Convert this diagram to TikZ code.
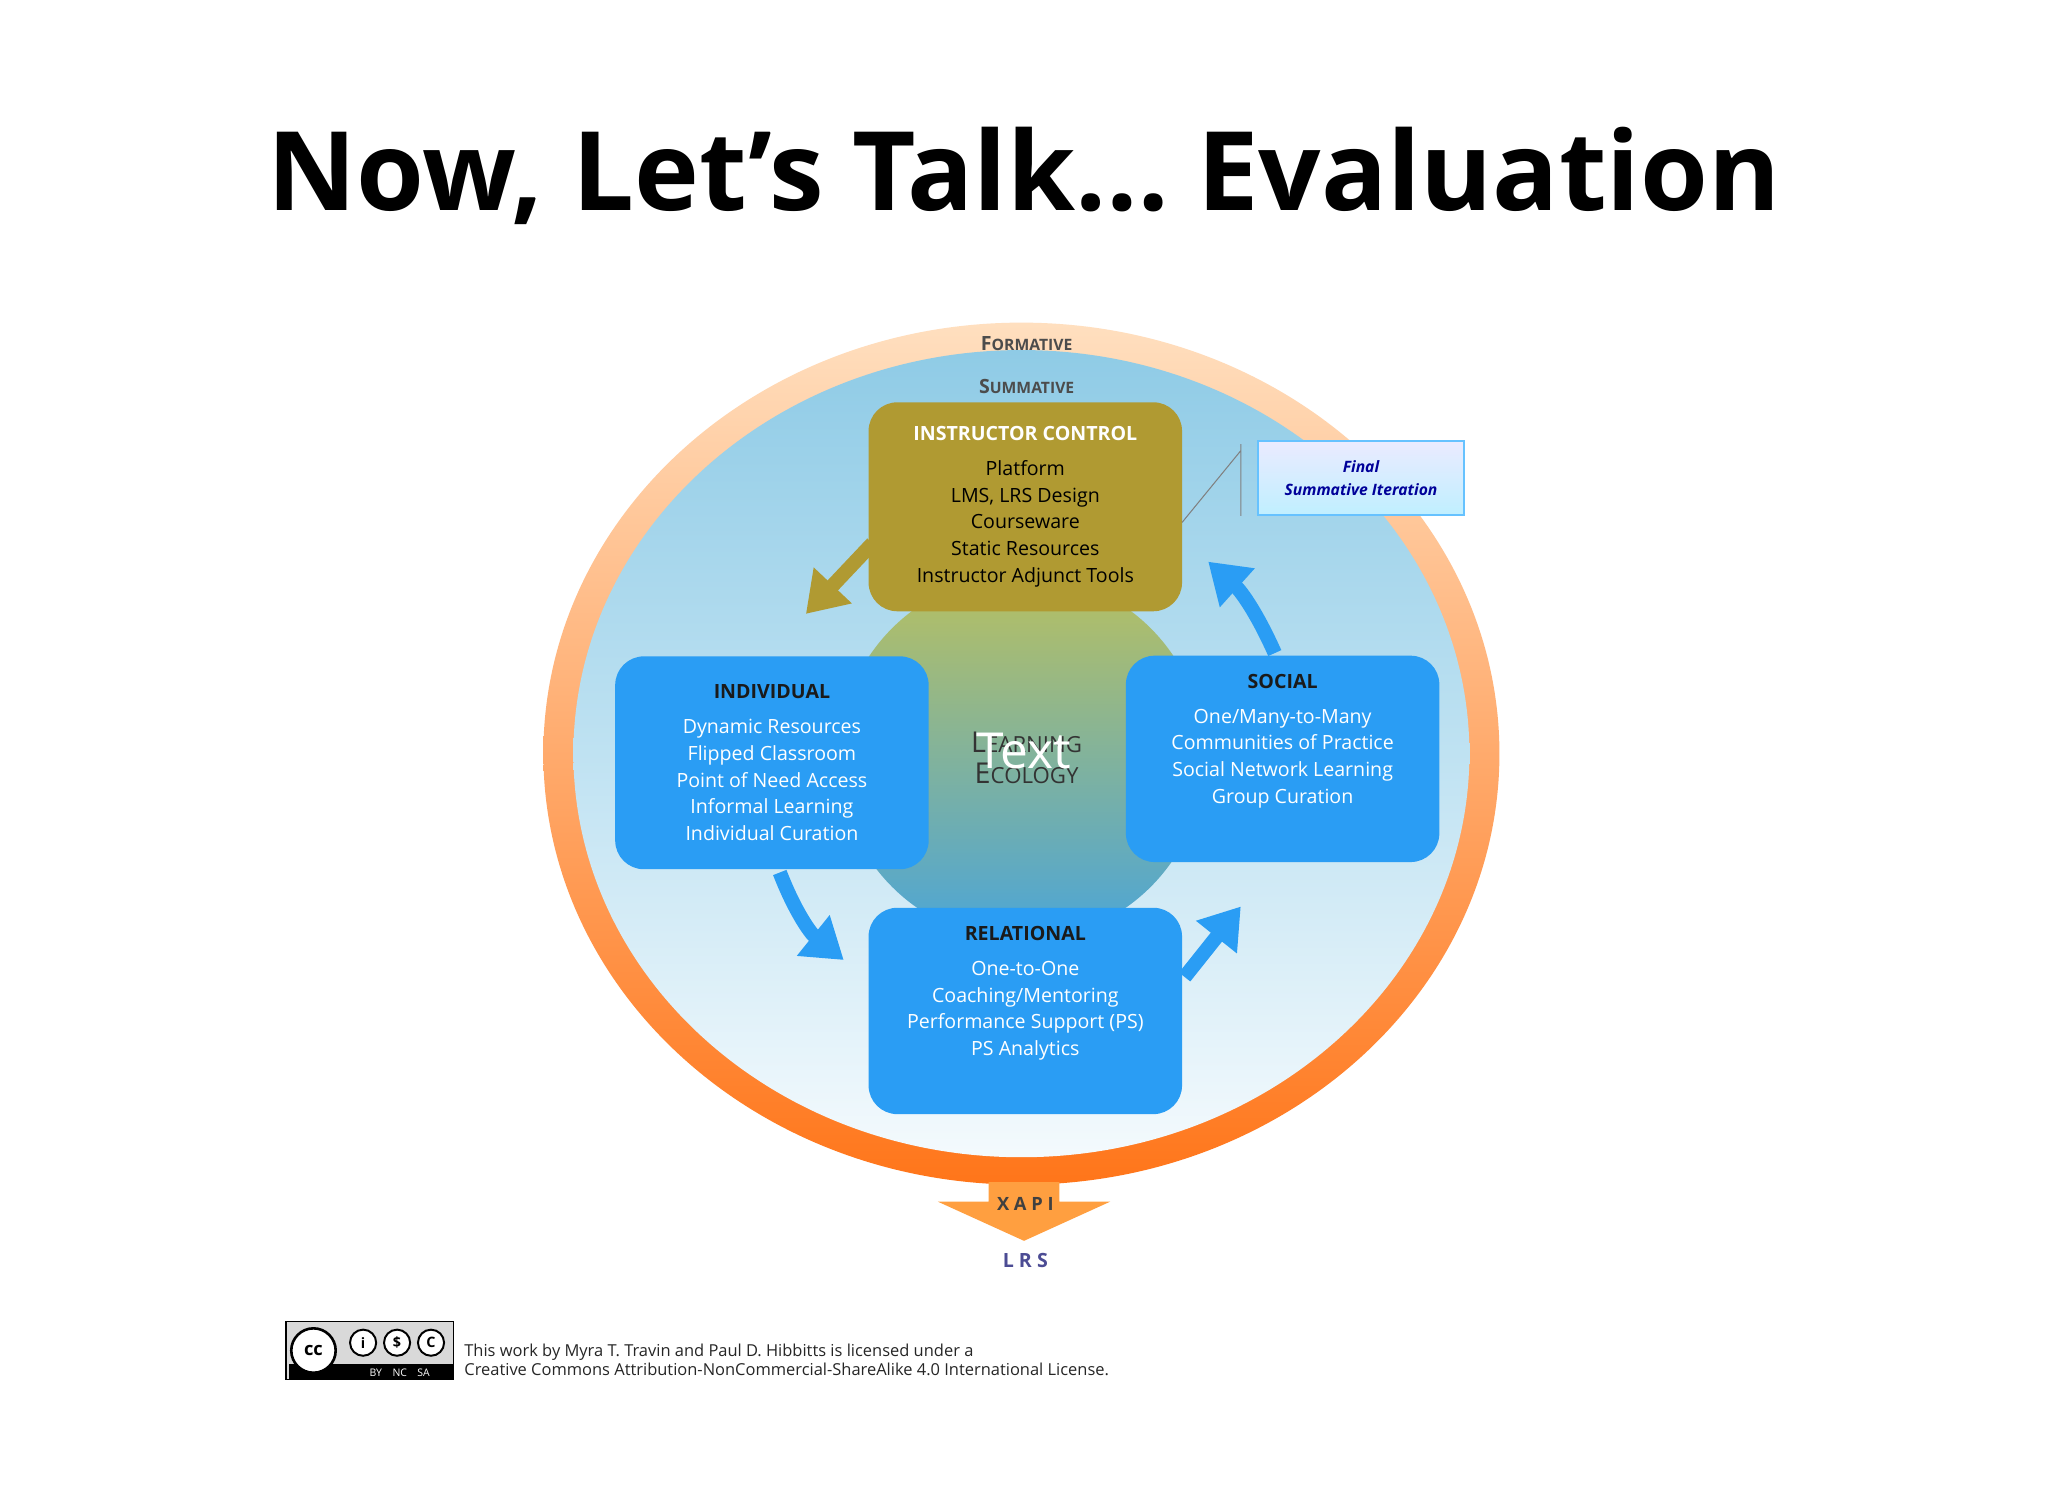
\documentclass[tikz,border=0pt]{standalone}
\usepackage{fontspec}
\setmainfont{Open Sans}
\usetikzlibrary{arrows.meta,shapes.geometric}
\definecolor{boxblue}{HTML}{2A9DF4}
\definecolor{gold}{HTML}{B09A32}
\definecolor{darkt}{HTML}{1A1A1A}
\definecolor{skytop}{HTML}{8FCBE6}
\definecolor{skymid}{HTML}{BFE2F2}
\definecolor{skybot}{HTML}{F4FAFD}
\definecolor{ecotop}{HTML}{B8C060}
\definecolor{ecobot}{HTML}{4BA5D8}
\tikzset{
 box/.style={rounded corners=22pt,minimum width=240pt,align=center,text=white,font=\fontsize{15}{20.5}\selectfont,inner sep=0pt},
 bluebox/.style={box,fill=boxblue},
 flow/.style={line width=11pt,-{Triangle[width=38pt,length=30pt]}},
}
\begin{document}
\begin{tikzpicture}[x=1pt,y=-1pt]
\useasboundingbox[fill=white] (0,0) rectangle (1568,1144);
\node[font=\fontsize{84}{86}\selectfont\bfseries] (title) at (784,135) {Now, Let’s Talk… Evaluation};
% rings
\shade[top color=orange!25, bottom color=orange!80!red!90] (782,577) ellipse [x radius=366, y radius=330];
\shade[top color=skytop, bottom color=skybot, middle color=skymid] (782,577) ellipse [x radius=343, y radius=309];
\shade[top color=ecotop, bottom color=ecobot] (782,580) circle [radius=140];
\node[font=\fontsize{15}{18}\selectfont\bfseries,text=black!70] (form) at (786,263) {F{\fontsize{12}{14}\selectfont ORMATIVE}};
\node[font=\fontsize{15}{18}\selectfont\bfseries,text=black!70] (summ) at (786,296) {S{\fontsize{12}{14}\selectfont UMMATIVE}};
\node[font=\fontsize{22}{22}\selectfont,text=black!80,align=center] (eco) at (786,580) {L{\fontsize{17}{20}\selectfont EARNING}\\[2pt]E{\fontsize{17}{20}\selectfont COLOGY}};
\node[font=\fontsize{38}{40}\selectfont,text=white] (txt) at (784,575) {Text};
% boxes
\node[box,fill=gold,minimum height=160pt] (ins) at (785,388) {{\bfseries INSTRUCTOR CONTROL}\\[6pt]\color{black}Platform\\\color{black}LMS, LRS Design\\\color{black}Courseware\\\color{black}Static Resources\\\color{black}Instructor Adjunct Tools};
\node[bluebox,minimum height=163pt] (ind) at (591,584) {{\color{darkt}\bfseries INDIVIDUAL}\\[6pt]Dynamic Resources\\Flipped Classroom\\Point of Need Access\\Informal Learning\\Individual Curation};
\node[bluebox,minimum height=158pt] (soc) at (982,581) {{\color{darkt}\bfseries SOCIAL}\\[6pt]One/Many-to-Many\\Communities of Practice\\Social Network Learning\\Group Curation\\[10pt]};
\node[bluebox,minimum height=158pt] (rel) at (785,774) {{\color{darkt}\bfseries RELATIONAL}\\[6pt]One-to-One\\Coaching/Mentoring\\Performance Support (PS)\\PS Analytics\\[10pt]};
% final
\node[draw=blue!40!cyan!60,line width=1.2pt,top color=blue!8,bottom color=blue!25!cyan!25,minimum width=158pt,minimum height=57pt,align=center,font=\fontsize{12}{17}\selectfont\itshape\bfseries,text=blue!60!black] (fin) at (1042,366) {Final\\Summative Iteration};
\coordinate (c1) at (905,400); \coordinate (c2) at (950,345); \coordinate (c3) at (950,395);
\draw[black!50,line width=0.8pt] (c1) -- (c2) (c2) -- ++(0,-5) (c2) -- (c3);
% arrows
\coordinate (a1) at (668,416); \coordinate (a2) at (617,470);
\draw[flow,gold] (a1) -- (a2);
\coordinate (b1) at (597,668); \coordinate (b2) at (646,735);
\draw[flow,boxblue] (b1) to[bend right=15] (b2);
\coordinate (d1) at (907,748); \coordinate (d2) at (950,694);
\draw[flow,boxblue] (d1) -- (d2);
\coordinate (e1) at (976,500); \coordinate (e2) at (925,430);
\draw[flow,boxblue] (e1) to[bend right=12] (e2);
% xapi
\fill[orange!75] (757,905) -- (811,905) -- (811,920) -- (850,920) -- (784,950) -- (718,920) -- (757,920) -- cycle;
\node[font=\fontsize{14}{16}\selectfont\bfseries,text=black!75] (xapi) at (785,922) {X A P I};
\node[font=\fontsize{15}{16}\selectfont\bfseries,text=blue!40!black!70] (lrs) at (785,965) {L R S};
% license
\node[draw=black,line width=1pt,fill=black!15,minimum width=128pt,minimum height=44pt,inner sep=0pt] (cc) at (283,1034) {};
\fill[black] (221,1044) rectangle (347,1056);
\node[draw,circle,line width=2pt,fill=white,minimum size=34pt,inner sep=0pt,font=\fontsize{14}{14}\selectfont\bfseries] (cci) at (240,1034) {cc};
\node[draw,circle,line width=1.5pt,fill=white,minimum size=20pt,inner sep=0pt,font=\fontsize{11}{11}\selectfont\bfseries] (by) at (278,1028) {i};
\node[draw,circle,line width=1.5pt,fill=white,minimum size=20pt,inner sep=0pt,font=\fontsize{11}{11}\selectfont\bfseries] (nc) at (304,1028) {\$};
\node[draw,circle,line width=1.5pt,fill=white,minimum size=20pt,inner sep=0pt,font=\fontsize{11}{11}\selectfont\bfseries] (sa) at (330,1028) {C};
\node[text=white,font=\fontsize{8}{8}\selectfont] (lab) at (306,1051) {BY\quad NC\quad SA};
\node[anchor=west,align=left,font=\fontsize{12.6}{15}\selectfont,text=black!85] (lic) at (352,1041) {This work by Myra T. Travin and Paul D. Hibbitts is licensed under a\\Creative Commons Attribution-NonCommercial-ShareAlike 4.0 International License.};
\end{tikzpicture}
\end{document}
